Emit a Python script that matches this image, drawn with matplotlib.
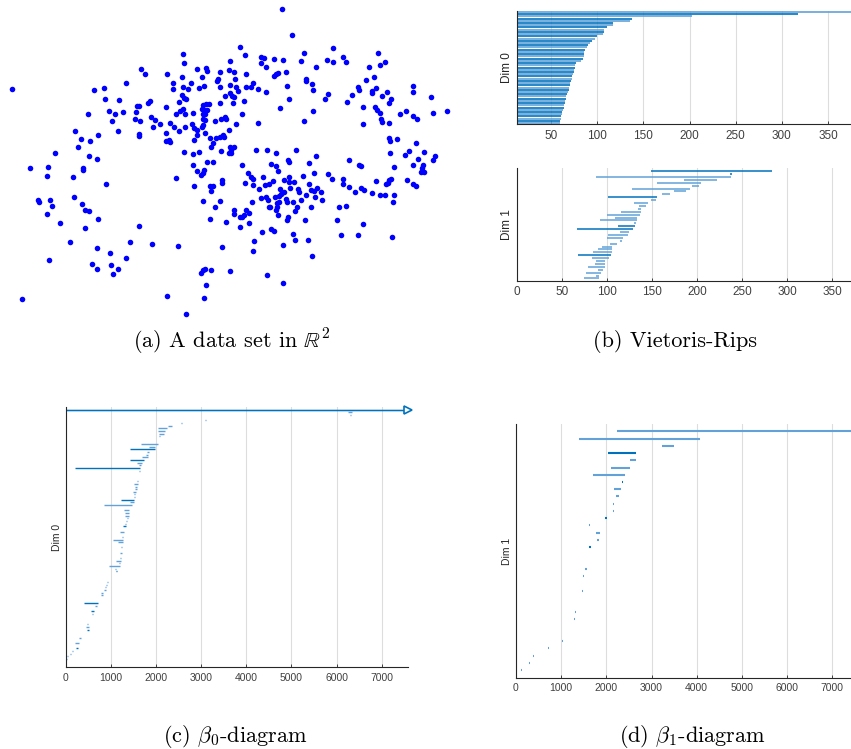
import numpy as np
import matplotlib
matplotlib.use("Agg")
from matplotlib import pyplot as plt

plt.rcParams['font.family'] = ['Liberation Sans', 'DejaVu Sans']
plt.rcParams['mathtext.fontset'] = 'cm'

# --- (a) point cloud (x, y), y measured downwards ---
points = np.array([
    (847, 27), (877, 105), (720, 140), (998, 145), (550, 163), (1135, 160), (913, 158), (735, 165),
    (784, 172), (793, 173), (1028, 171), (822, 178), (848, 180), (691, 184), (903, 184), (982, 181), (1000, 185), (1038, 185), (1154, 187),
    (551, 190), (784, 190), (797, 200), (1108, 200), (1140, 196), (949, 202),
    (423, 208), (436, 222), (592, 208), (618, 203), (622, 212), (502, 222), (661, 217), (688, 211), (703, 217), (737, 222), (829, 222), (823, 227), (857, 215), (835, 220),
    (545, 231), (605, 231), (705, 237), (655, 237), (650, 243), (917, 236), (917, 243), (1121, 231), (1097, 240),
    (378, 250), (520, 248), (574, 248), (611, 257), (548, 260), (660, 260), (690, 254), (708, 262), (737, 260), (752, 262), (758, 248), (936, 253), (862, 258), (1075, 260), (1239, 259),
    (282, 270), (313, 265), (519, 268), (565, 268), (596, 265), (713, 273), (775, 268), (798, 277), (940, 271), (1078, 270), (1117, 272), (1128, 265), (1161, 277), (1240, 277), (1115, 278),
    (545, 285), (552, 293), (558, 297), (676, 289), (690, 280), (697, 289), (702, 291), (1055, 285), (983, 282), (1147, 289), (1293, 292),
    (315, 297), (358, 300), (451, 302), (444, 310), (536, 307), (610, 316), (618, 313), (626, 313), (660, 308), (700, 310), (732, 302), (866, 298), (975, 297), (1041, 307), (1172, 298), (1168, 309),
    (411, 318), (418, 318), (499, 321), (840, 323), (1088, 320), (1126, 320), (605, 327), (612, 330), (620, 330), (548, 327), (541, 332),
    (328, 334), (345, 342), (370, 337), (409, 336), (265, 342), (529, 343), (556, 343), (578, 340), (608, 343), (616, 343), (727, 341), (940, 334), (1130, 330), (1139, 340), (1219, 333), (1200, 342), (1240, 347), (1300, 339), (1340, 332),
    (337, 362), (404, 358), (421, 362), (453, 350), (465, 360), (609, 356), (614, 360), (644, 364), (662, 358), (676, 350), (678, 358), (1142, 357), (1145, 365), (1166, 368), (1250, 356), (913, 362),
    (480, 372), (509, 368), (576, 372), (582, 385), (608, 375), (606, 382), (707, 373), (775, 368), (1088, 372),
    (459, 381), (522, 382), (556, 380), (536, 392), (590, 390), (686, 390), (354, 393), (225, 392),
    (293, 405), (499, 398), (418, 403), (416, 407), (592, 404), (615, 398), (669, 406), (672, 410), (660, 410), (630, 415), (648, 414),
    (244, 418), (271, 423), (499, 423), (507, 420), (511, 426), (582, 421), (1168, 413), (1190, 416), (1170, 423), (640, 428),
    (235, 442), (633, 440), (662, 452), (690, 442), (701, 442), (693, 450), (686, 458), (694, 459), (767, 450), (800, 451), (889, 450), (1248, 428),
    (166, 460), (553, 456), (596, 456), (578, 462), (829, 460), (1169, 458), (1226, 452), (1215, 465), (1271, 456),
    (267, 468), (292, 478), (863, 479), (867, 486), (948, 467), (1047, 481), (1253, 477), (1304, 469), (1298, 480), (1078, 494), (1083, 497),
    (622, 486), (639, 487), (579, 495), (727, 494), (812, 493), (827, 499), (926, 488), (1240, 494), (1268, 496), (1181, 502), (1266, 504),
    (89, 505), (144, 501), (250, 504), (250, 510), (591, 513), (612, 510), (609, 519), (604, 524), (744, 518), (835, 513), (941, 519), (1264, 515), (1272, 517),
    (141, 528), (219, 530), (527, 533), (752, 530), (758, 537), (790, 530), (867, 530), (909, 529), (983, 522), (995, 538), (1028, 537), (1174, 536), (1168, 541), (1163, 549), (1220, 540),
    (317, 551), (667, 540), (667, 548), (735, 548), (758, 554), (795, 554), (806, 553), (820, 543), (853, 540), (866, 546), (883, 547), (927, 551), (1028, 553), (1046, 560), (1127, 544), (1158, 553), (1239, 553), (1248, 558),
    (581, 558), (630, 559), (639, 557), (634, 573), (778, 566), (840, 566), (870, 563), (893, 568), (898, 577), (917, 586), (932, 571), (941, 572), (952, 563), (964, 575), (1065, 577), (1082, 563), (1093, 571), (1117, 579),
    (783, 593), (798, 591), (804, 600), (824, 590), (838, 588), (843, 581), (851, 575), (857, 597), (862, 607), (880, 605), (946, 591), (965, 599), (1141, 585), (1156, 584), (1182, 584), (1179, 605), (902, 599),
    (222, 591), (113, 600), (116, 607), (150, 599), (245, 611), (155, 618), (610, 603), (660, 603), (646, 621), (757, 607), (832, 610), (838, 605), (806, 622), (810, 622), (830, 620), (890, 620), (932, 622), (1017, 622), (1037, 619),
    (140, 642), (255, 630), (268, 632), (703, 630), (703, 641), (738, 629), (748, 638), (732, 645), (720, 650), (727, 652), (827, 630), (833, 645), (863, 650), (885, 633), (862, 660),
    (293, 658), (630, 658), (677, 665), (746, 668), (719, 680), (916, 661), (1010, 661), (1090, 671), (181, 669),
    (256, 685), (417, 677), (787, 697), (812, 688), (821, 693), (878, 702), (884, 721), (925, 719), (1022, 705), (1073, 705), (1177, 711),
    (211, 726), (391, 725), (457, 733), (534, 737), (667, 742), (761, 722), (759, 753), (850, 734), (290, 743), (937, 767),
    (331, 760), (377, 773), (147, 779), (275, 791), (292, 807), (334, 795), (340, 821), (354, 808),
    (608, 810), (615, 807), (632, 811), (604, 819), (690, 814), (801, 825), (849, 848),
    (619, 854), (502, 889), (613, 893), (559, 941), (65, 898), (36, 266),
])

# --- (b) Vietoris-Rips barcode ---
# dim 0: all bars born at 0, deaths listed top to bottom
vr0_death = [np.inf, 317, 203, 138, 135, 117, 117, 110, 107, 107, 106, 100, 98, 94, 92, 90, 89,
             87, 86, 86, 85, 84, 82, 77, 76, 76, 75, 75, 74, 73, 72, 71, 70, 70, 69, 69, 68, 67,
             66, 66, 65, 65, 64, 64, 63, 62, 62, 61, 61, 60, 60]
# dim 1: (birth, death), top to bottom
vr1_bars = [(149.4, 282.8), (237.0, 238.5), (88.4, 237.7), (185.6, 222.6), (155.3, 204.0),
            (194.5, 201.8), (128.3, 192.2), (174.5, 187.4), (161.6, 170.0), (101.3, 155.3),
            (148.6, 154.2), (130.0, 145.3), (136.0, 143.0), (135.0, 138.0), (115.3, 137.5),
            (100.0, 136.4), (109.0, 133.0), (92.4, 133.0), (130.5, 132.0), (112.4, 130.9),
            (67.3, 128.7), (114.6, 125.0), (101.3, 123.0), (100.0, 118.0), (114.6, 117.2),
            (103.5, 111.6), (95.0, 106.0), (90.6, 105.4), (84.3, 105.4), (68.4, 104.3),
            (83.2, 102.4), (88.4, 98.0), (87.2, 98.0), (79.0, 98.0), (90.2, 96.1),
            (77.3, 93.5), (88.4, 91.0), (75.0, 91.0)]
vr1_dark = [0, 1, 9, 19, 20, 29]

# --- (c) beta_0 diagram: (birth, death), top to bottom ---
beta0_bars = [(0, np.inf), (6262, 6335), (6295, 6310), (6300, 6305), (3095, 3110), (2565, 2575),
              (2275, 2350), (2040, 2237), (2053, 2200), (2075, 2185), (2075, 2085), (2060, 2068),
              (2040, 2048), (1669, 2038), (1846, 1979), (1425, 1979), (1794, 1839), (1780, 1831),
              (1683, 1816), (1425, 1735), (1573, 1691), (1624, 1669), (207, 1647), (1630, 1640),
              (1615, 1625), (1600, 1610), (1595, 1603), (1585, 1595), (1521, 1602), (1536, 1587),
              (1536, 1573), (1499, 1558), (1515, 1525), (1515, 1525), (1226, 1521), (1425, 1521),
              (849, 1477), (1440, 1450), (1292, 1410), (1322, 1410), (1322, 1396), (1351, 1373),
              (1340, 1350), (1320, 1330), (1277, 1336), (1270, 1280), (1204, 1300), (1260, 1270),
              (1248, 1277), (1048, 1277), (1152, 1270), (1240, 1250), (1233, 1243), (1226, 1236),
              (1204, 1241), (1215, 1225), (1205, 1215), (1122, 1218), (1190, 1200), (960, 1204),
              (1100, 1110), (1115, 1145), (1000, 1010), (960, 970), (935, 945), (920, 930),
              (900, 910), (880, 890), (849, 893), (775, 834), (783, 820), (760, 770), (730, 740),
              (406, 724), (650, 701), (640, 650), (561, 628), (590, 600), (560, 570), (530, 540),
              (510, 520), (480, 490), (450, 517), (465, 510), (440, 450), (330, 340), (303, 332),
              (290, 300), (214, 295), (240, 250), (221, 266), (150, 160), (89, 111), (30, 40),
              (0, 22)]
beta0_dark = [15, 19, 22, 34, 44, 61, 73, 76, 83, 90]

# --- (d) beta_1 diagram: (birth, death), top to bottom ---
beta1_bars = [(2242, np.inf), (1394, 4072), (3231, 3489), (2043, 2648), (2523, 2648), (2095, 2530),
              (1711, 2405), (2338, 2375), (2169, 2323), (2213, 2279), (2145, 2160), (2145, 2160),
              (1969, 2021), (1615, 1630), (1770, 1859), (1800, 1844), (1615, 1652), (1610, 1620),
              (1545, 1555), (1527, 1564), (1490, 1512), (1478, 1488), (1465, 1475), (1430, 1440),
              (1320, 1330), (1306, 1328), (1283, 1313), (1235, 1245), (1235, 1245), (1010, 1033),
              (712, 722), (380, 390), (290, 300), (111, 133)]
beta1_dark = [3, 7, 12, 16]

DARK = '#0072BD'
LIGHT = '#62A2D8'


def barcode(ax, bars, dark, xmax, lw):
    n = len(bars)
    for k, (b, d) in enumerate(bars):
        col = DARK if k in dark else LIGHT
        ax.hlines(n - 1 - k, b, min(d, xmax), colors=col, linewidth=lw)


def style(ax, xlim, ylim, xticks, label, fs=7.5):
    ax.set_xlim(xlim)
    ax.set_ylim(ylim)
    ax.set_xticks(xticks)
    ax.set_yticks([])
    ax.grid(axis='x', color='#DDDDDD', linewidth=0.8)
    ax.set_axisbelow(True)
    for s in ['top', 'right']:
        ax.spines[s].set_visible(False)
    for s in ['left', 'bottom']:
        ax.spines[s].set_color('#262626')
        ax.spines[s].set_linewidth(0.8)
    ax.tick_params(axis='x', direction='in', length=2.5, width=0.6, color='#262626',
                   labelcolor='#404040', labelsize=fs, pad=4)
    ax.set_ylabel(label, fontsize=fs, color='#262626', labelpad=3)


fig = plt.figure(figsize=(8.51, 7.49), dpi=100)

# (a)
ax_a = fig.add_axes([0.0, 0.5594, 0.5405, 0.4406])
ax_a.scatter(points[:, 0], points[:, 1], s=16, color='#0000FF', linewidths=0)
ax_a.set_xlim(0, 1380)
ax_a.set_ylim(990, 0)
ax_a.axis('off')

# (b) top: dim 0
ax_b0 = fig.add_axes([0.6072, 0.8344, 0.3928, 0.1509])
n0 = len(vr0_death)
for k, d in enumerate(vr0_death):
    col = DARK if k % 2 else LIGHT
    ax_b0.hlines(n0 - 1 - k, 0, min(d, 375), colors=col, linewidth=1.2)
style(ax_b0, (12.6, 375), (-0.4, n0 - 0.6), [50, 100, 150, 200, 250, 300, 350], 'Dim 0', 8.5)

# (b) bottom: dim 1
ax_b1 = fig.add_axes([0.6072, 0.6252, 0.3928, 0.1501])
barcode(ax_b1, vr1_bars, vr1_dark, 371, 1.1)
style(ax_b1, (0, 371), (-0.8, len(vr1_bars)), [0, 50, 100, 150, 200, 250, 300, 350], 'Dim 1', 8.5)

# (c)
ax_c = fig.add_axes([0.0772, 0.1091, 0.4026, 0.3471])
xmax_c = 7590
barcode(ax_c, beta0_bars, beta0_dark, xmax_c, 1.0)
top_c = len(beta0_bars) - 1
ax_c.hlines(top_c, 0, xmax_c, colors=DARK, linewidth=1.0)
ax_c.plot([xmax_c], [top_c], marker='>', markersize=6, markerfacecolor='white',
          markeredgecolor=DARK, markeredgewidth=1.2, clip_on=False)
style(ax_c, (0, xmax_c), (-3.2, top_c + 0.9), range(0, 8000, 1000), 'Dim 0')

# (d)
ax_d = fig.add_axes([0.6063, 0.0952, 0.3937, 0.3383])
barcode(ax_d, beta1_bars, beta1_dark, 7413, 1.5)
style(ax_d, (0, 7413), (-1.05, len(beta1_bars) - 0.03), range(0, 8000, 1000), 'Dim 1')

# captions
cap = dict(ha='center', va='center', family='cmr10', fontsize=16, color='black')
fig.text(232 / 851, 1 - 342 / 749, r'(a) A data set in $\mathbb{R}^2$', **cap)
fig.text(675 / 851, 1 - 342 / 749, '(b) Vietoris-Rips', **cap)
fig.text(235 / 851, 1 - 736 / 749, r'(c) $\beta_0$-diagram', **cap)
fig.text(692 / 851, 1 - 736 / 749, r'(d) $\beta_1$-diagram', **cap)

fig.savefig('out.png', dpi=100)
